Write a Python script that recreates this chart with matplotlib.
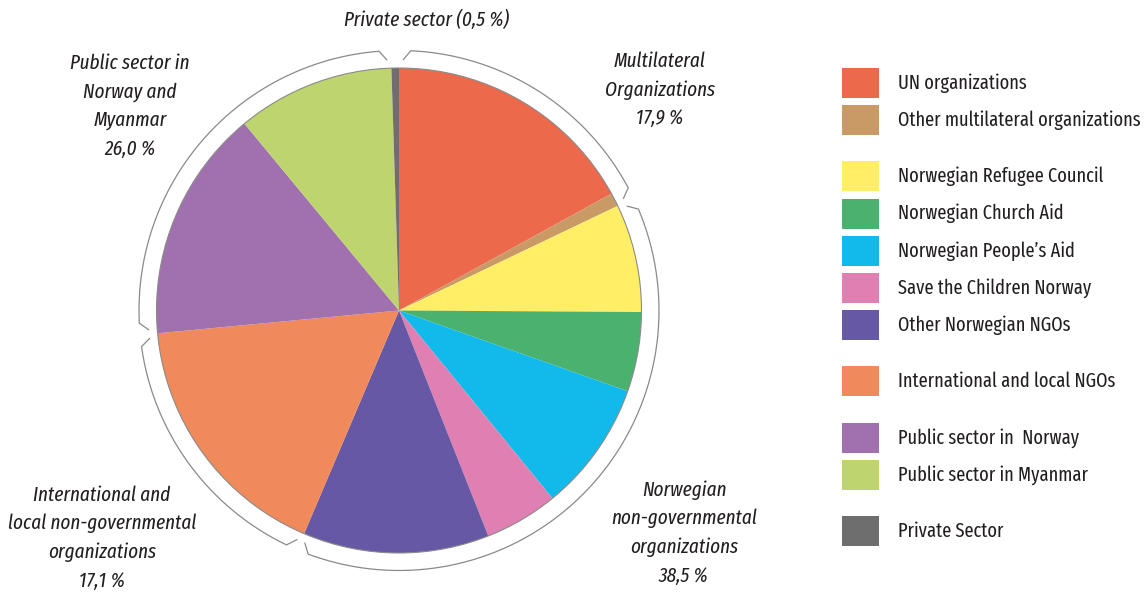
import numpy as np
import matplotlib
matplotlib.use("Agg")
import matplotlib.pyplot as plt
from matplotlib.patches import Rectangle, Circle

# ---------------- data ----------------
categories = ["UN organizations", "Other multilateral organizations",
              "Norwegian Refugee Council", "Norwegian Church Aid",
              "Norwegian People\u2019s Aid", "Save the Children Norway",
              "Other Norwegian NGOs", "International and local NGOs",
              "Public sector in  Norway", "Public sector in Myanmar",
              "Private Sector"]
values = [17.0, 0.9, 7.2, 5.3, 8.7, 4.9, 12.4, 17.1, 15.5, 10.5, 0.5]
colors = ["#EC6A4B", "#C99A66", "#FFEE66", "#4AB26E", "#12BAEC", "#E07FB2",
          "#6658A4", "#F08A5A", "#A171AF", "#BDD46F", "#6E6E6E"]
group_of = [0, 0, 1, 1, 1, 1, 1, 2, 3, 3, 4]
group_labels = ["Multilateral\nOrganizations\n17,9 %",
                "Norwegian\nnon-governmental\norganizations\n38,5 %",
                "International and\nlocal non-governmental\norganizations\n17,1 %",
                "Public sector in\nNorway and\nMyanmar\n26,0 %",
                "Private sector (0,5 %)"]
bracketed_groups = [0, 1, 2, 3]

# ---------------- layout ----------------
W, H = 1146, 593
fig = plt.figure(figsize=(W / 100, H / 100), dpi=100)
ax = fig.add_axes([0, 0, 1, 1])

cx, cy = 399, H - 310.5
R = 242.5

ax.pie(values, colors=colors, startangle=90, counterclock=False,
       center=(cx, cy), radius=R, frame=True,
       wedgeprops=dict(linewidth=0, antialiased=True))
ax.set_xlim(0, W)
ax.set_ylim(0, H)
ax.set_aspect("equal")
ax.axis("off")
ax.add_patch(Circle((cx, cy), R, fill=False, ec="#8a8a8a", lw=0.8))

FONT = ["Fira Sans Extra Condensed", "Fira Sans Condensed",
        "Roboto Condensed", "DejaVu Sans"]
TXT = "#231f20"

# group brackets
cum = np.concatenate([[0], np.cumsum(values)])
total = cum[-1]
def pt(theta_deg, r):
    t = np.radians(theta_deg)
    return cx + r * np.sin(t), cy + r * np.cos(t)

for g in bracketed_groups:
    idx = [i for i, gg in enumerate(group_of) if gg == g]
    a1 = 360 * cum[idx[0]] / total
    a2 = 360 * cum[idx[-1] + 1] / total
    ts = np.linspace(a1 + 2.6, a2 - 2.6, 300)
    xs, ys = pt(ts, 260)
    x0, y0 = pt(a1 + 1.0, 251)
    x1, y1 = pt(a2 - 1.0, 251)
    xs = np.concatenate([[x0], xs, [x1]])
    ys = np.concatenate([[y0], ys, [y1]])
    ax.plot(xs, ys, color="#8a8a8a", lw=0.9, solid_joinstyle="miter")

# group labels
label_pos = [(660, 90), (684, 533), (102, 538), (130, 106), (427, 20)]
for (lx, ly), txt in zip(label_pos, group_labels):
    ax.text(lx, H - ly, txt, ha="center", va="center", style="italic",
            family=FONT, fontsize=15, color=TXT, linespacing=1.58)

# legend
row_y = []
y = 83
prev = None
for i, g in enumerate(group_of):
    if prev is not None:
        y += 37.2 + (19 if g != prev else 0)
    row_y.append(y)
    prev = g
for name, col, ry in zip(categories, colors, row_y):
    ax.add_patch(Rectangle((842, H - ry - 15), 37, 30, fc=col, ec="none"))
    ax.text(898, H - ry, name, ha="left", va="center", family=FONT,
            fontsize=14.4, color=TXT)

fig.savefig("out.png", dpi=100)
